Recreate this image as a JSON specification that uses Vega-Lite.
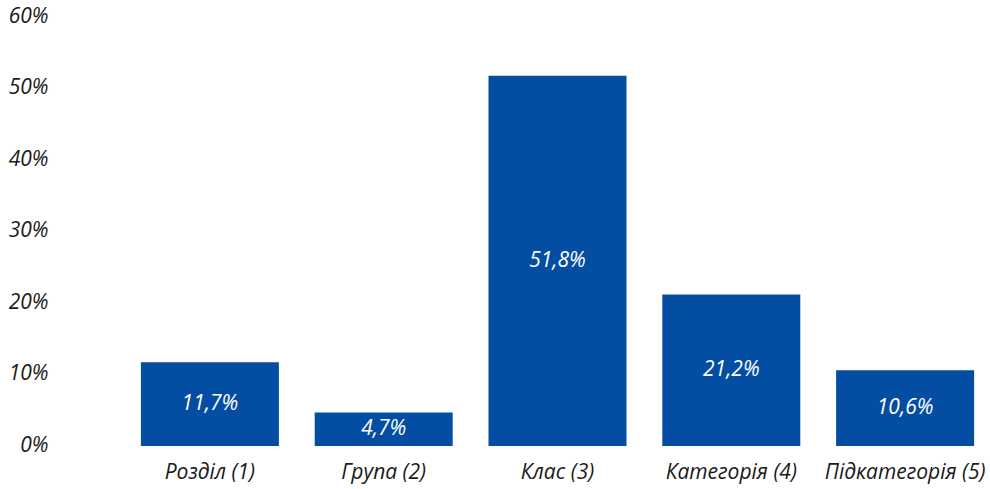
{
  "$schema": "https://vega.github.io/schema/vega-lite/v6.json",
  "width": 869,
  "height": 429,
  "autosize": "none",
  "padding": {"left": 123, "top": 17, "right": 0, "bottom": 43},
  "background": "white",
  "config": {
    "locale": {"number": {"decimal": ",", "thousands": " ", "grouping": [3], "currency": ["", " ₴"]}},
    "view": {"stroke": null},
    "font": "Open Sans",
    "axis": {"labelFont": "Open Sans", "labelFontStyle": "italic", "labelColor": "#1a1a1a", "labelFontSize": 21, "domain": false, "ticks": false, "grid": false, "title": null}
  },
  "data": {
    "values": [
      {"level": "Розділ (1)", "share": 0.117},
      {"level": "Група (2)", "share": 0.047},
      {"level": "Клас (3)", "share": 0.518},
      {"level": "Категорія (4)", "share": 0.212},
      {"level": "Підкатегорія (5)", "share": 0.106}
    ]
  },
  "encoding": {
    "x": {
      "field": "level",
      "type": "nominal",
      "sort": null,
      "scale": {"paddingInner": 0.206, "paddingOuter": 0.103},
      "axis": {"labelAngle": 0, "labelPadding": 15}
    }
  },
  "layer": [
    {
      "mark": {"type": "bar", "color": "#034EA2"},
      "encoding": {
        "y": {
          "field": "share",
          "type": "quantitative",
          "scale": {"domain": [0, 0.6], "nice": false},
          "axis": {"format": ".0%", "values": [0, 0.1, 0.2, 0.3, 0.4, 0.5, 0.6], "labelPadding": 75, "labelOffset": -1}
        }
      }
    },
    {
      "mark": {"type": "text", "color": "white", "fontStyle": "italic", "fontSize": 21, "baseline": "middle"},
      "encoding": {
        "y": {
          "field": "share",
          "type": "quantitative",
          "scale": {"domain": [0, 1.2], "nice": false},
          "axis": null
        },
        "text": {"field": "share", "type": "quantitative", "format": ".1%"}
      }
    }
  ],
  "resolve": {"scale": {"y": "independent"}}
}
